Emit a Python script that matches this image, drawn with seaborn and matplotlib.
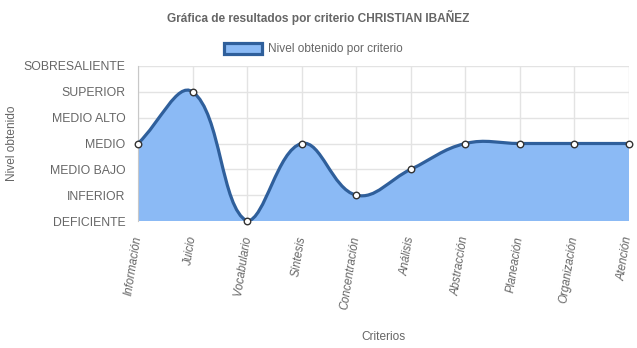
import numpy as np
import matplotlib
matplotlib.use("Agg")
import matplotlib.pyplot as plt
from matplotlib.path import Path
from matplotlib.patches import PathPatch, Patch
import seaborn as sns

# Data
criterios = ["Información", "Juicio", "Vocabulario", "Síntesis", "Concentración",
             "Análisis", "Abstracción", "Planeación", "Organización", "Atención"]
niveles = ["DEFICIENTE", "INFERIOR", "MEDIO BAJO", "MEDIO", "MEDIO ALTO",
           "SUPERIOR", "SOBRESALIENTE"]
valores = [3, 5, 0, 3, 1, 2, 3, 3, 3, 3]

sns.set_style("white")
plt.rcParams["font.family"] = ["Liberation Sans", "DejaVu Sans"]

TXT = "#666666"
LINE = "#2f5f9b"
FILL = "#8bbaf5"

fig = plt.figure(figsize=(6.37, 3.48), dpi=100)
ax = fig.add_axes([138 / 637, 1 - 221 / 348, 491 / 637, 155 / 348])

# smooth curve like Chart.js (tension 0.4), computed in pixel-ish units
sx, sy = 491.0 / 9, 155.0 / 6
xs = np.arange(len(valores), dtype=float)
ys = np.array(valores, dtype=float)
px, py = xs * sx, ys * sy
t = 0.4
cps = []
for i in range(len(px)):
    p0 = (px[max(i - 1, 0)], py[max(i - 1, 0)])
    p2 = (px[min(i + 1, len(px) - 1)], py[min(i + 1, len(px) - 1)])
    d01 = np.hypot(px[i] - p0[0], py[i] - p0[1])
    d12 = np.hypot(p2[0] - px[i], p2[1] - py[i])
    tot = d01 + d12 if d01 + d12 > 0 else 1
    fa, fb = t * d01 / tot, t * d12 / tot
    prev_cp = (px[i] - fa * (p2[0] - p0[0]), py[i] - fa * (p2[1] - p0[1]))
    next_cp = (px[i] + fb * (p2[0] - p0[0]), py[i] + fb * (p2[1] - p0[1]))
    cps.append((prev_cp, next_cp))


def to_data(p):
    return (p[0] / sx, min(max(p[1] / sy, 0), 6))


verts = [(xs[0], ys[0])]
codes = [Path.MOVETO]
for i in range(len(xs) - 1):
    verts += [to_data(cps[i][1]), to_data(cps[i + 1][0]), (xs[i + 1], ys[i + 1])]
    codes += [Path.CURVE4] * 3

fill_verts = verts + [(xs[-1], 0), (xs[0], 0), (xs[0], ys[0])]
fill_codes = codes + [Path.LINETO, Path.LINETO, Path.CLOSEPOLY]
ax.add_patch(PathPatch(Path(fill_verts, fill_codes), facecolor=FILL, edgecolor="none", zorder=2))
ax.add_patch(PathPatch(Path(verts, codes), facecolor="none", edgecolor=LINE, lw=2.3, zorder=3))

sns.scatterplot(x=xs, y=ys, ax=ax, s=22, color="white", edgecolor="#333333",
                linewidth=1.0, zorder=4, clip_on=False)

ax.set_xlim(0, len(criterios) - 1)
ax.set_ylim(0, 6)
ax.set_xticks(xs)
ax.set_xticklabels(criterios, rotation=81, ha="right", va="center",
                   rotation_mode="anchor", fontstyle="italic", fontsize=8.3, color=TXT)
ax.set_yticks(range(len(niveles)))
ax.set_yticklabels(niveles, fontsize=8.8, color=TXT)
ax.tick_params(axis="both", length=8, color="#c8c8c8", width=1, pad=1)
ax.tick_params(axis="x", pad=3)
ax.grid(True, color="#e3e3e3", lw=1, zorder=0)
ax.set_axisbelow(True)
for s in ["top", "right", "bottom"]:
    ax.spines[s].set_visible(False)
ax.spines["left"].set_color("#c8c8c8")

ax.set_xlabel("Criterios", fontsize=8.6, color=TXT)
ax.xaxis.set_label_coords(0.5, -0.71)
ax.set_ylabel("Nivel obtenido", fontsize=8.6, color=TXT)
ax.yaxis.set_label_coords(-0.245, 0.5)

fig.text(0.5, 1 - 17 / 348, "Gráfica de resultados por criterio CHRISTIAN IBAÑEZ",
         ha="center", va="center", fontsize=8.6, fontweight="bold", color=TXT)

handle = Patch(facecolor=FILL, edgecolor=LINE, lw=2.3)
fig.legend(handles=[handle], labels=["Nivel obtenido por criterio"], loc="center",
           bbox_to_anchor=(0.492, 1 - 49 / 348), frameon=False, fontsize=8.6,
           labelcolor=TXT, handlelength=3.2, handleheight=1.1, handletextpad=0.5)

fig.savefig("out.png", dpi=100)
